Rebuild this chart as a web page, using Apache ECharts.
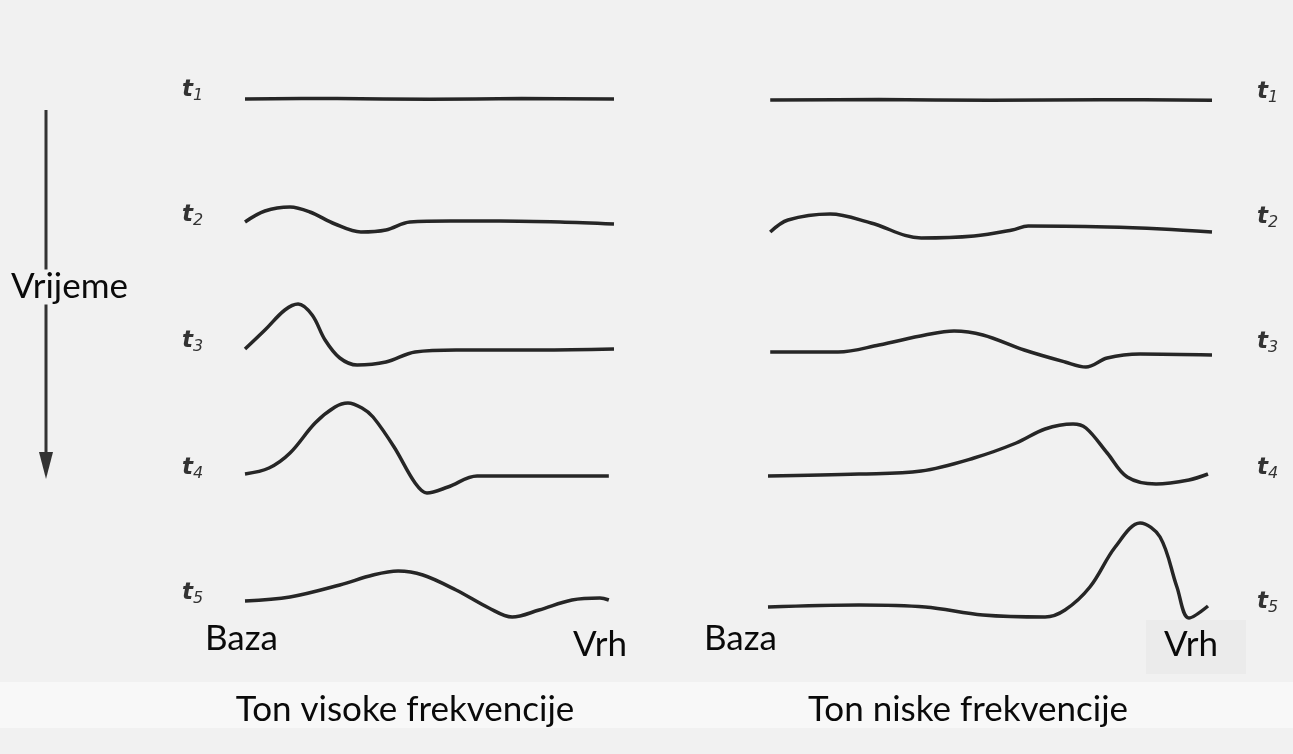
<!DOCTYPE html>
<html>
<head>
<meta charset="utf-8">
<script src="https://cdn.jsdelivr.net/npm/echarts@6/dist/echarts.min.js"></script>
<style>
  html, body { margin: 0; padding: 0; background: #f1f1f1; }
  #chart { width: 1293px; height: 754px; }
</style>
</head>
<body>
<div id="chart"></div>
<script>
// position along the membrane (0 = Baza, 100 = Vrh) and displacement
const highT1 = [[0, 0], [25, 0.5], [50, -0.3], [75, 0.4], [100, 0]];
const highT2 = [[0, 0], [5.4, 11], [12.2, 15], [17.6, 10], [24.4, -2], [31.4, -10], [38.2, -8], [44.7, 0], [55.6, 1], [69.1, 1], [85.4, 0], [100, -2]];
const highT3 = [[0, 1], [5.4, 20], [10.8, 40], [14.4, 46], [18.2, 35], [21.7, 10], [25.7, -8], [30.4, -15], [38.2, -12], [46.1, -2], [57.2, 0], [79.9, 0], [100, 1]];
const highT4 = [[0, 2], [6.5, 8], [12.2, 23], [19, 53], [24.4, 69], [27.9, 73], [31.7, 68], [34.7, 59], [40.4, 29], [46.1, -7], [49.3, -17], [55, -11], [62.9, 0], [79.9, 0], [98.6, 0]];
const highT5 = [[0, -1], [12.2, 3], [25.7, 15], [34.7, 25], [41.5, 29], [48.2, 25], [57.2, 10], [66.1, -8], [72.4, -17], [79.7, -10], [88.6, 0], [96.2, 2], [98.6, 0]];

const lowT1 = [[0.5, 0], [25, 0.4], [50, -0.3], [75, 0.3], [100, -0.3]];
const lowT2 = [[0.5, -2], [4.5, 10], [14, 16], [23.2, 7], [34.5, -8], [46.4, -6], [55, 0], [58.6, 4], [76.4, 3], [88.7, 1], [100, -2]];
const lowT3 = [[0.5, 0], [15.8, 0], [25, 7], [35.4, 17], [41.9, 21], [48.4, 17], [57.7, 2], [66.9, -10], [71.6, -15], [76.4, -6], [83.8, -2], [100, -3]];
const lowT4 = [[0, 0], [20.5, 2], [34.5, 5], [46.4, 18], [55.9, 33], [62.4, 47], [68.7, 52], [71.6, 48], [76.4, 23], [80.9, -1], [87.4, -8], [94.8, -4], [99.1, 2]];
const lowT5 = [[0, -1], [20.5, 1], [35.4, -1], [48.4, -9], [62.4, -11], [66.9, -4], [72.5, 19], [78.2, 59], [83.8, 83], [88.3, 69], [92.1, 19], [94.8, -12], [99.1, 0]];

const timeLabels = ['1', '2', '3', '4', '5'];
const panelTitles = ['Ton visoke frekvencije', 'Ton niske frekvencije'];
const endLabels = ['Baza', 'Vrh'];

// layout
const panels = [
  { traces: [highT1, highT2, highT3, highT4, highT5], left: 245, width: 369, base: [99, 222, 350, 476, 600], labelX: 182, labelY: [76, 201, 327, 454, 579] },
  { traces: [lowT1, lowT2, lowT3, lowT4, lowT5], left: 768, width: 444, base: [100, 230, 352, 476, 606], labelX: 1257, labelY: [78, 203, 328, 454, 588] }
];
const yMax = 90, yMin = -30;

const grid = [], xAxis = [], yAxis = [], series = [], graphic = [];

graphic.push({ type: 'rect', shape: { x: 0, y: 682, width: 1293, height: 46 }, style: { fill: '#f8f8f8' }, z: -10 });
graphic.push({ type: 'rect', shape: { x: 1146, y: 620, width: 100, height: 54 }, style: { fill: '#ebebeb' }, z: -10 });

panels.forEach(function (p, pi) {
  p.traces.forEach(function (tr, ri) {
    const gi = grid.length;
    grid.push({ left: p.left, width: p.width, top: p.base[ri] - yMax, height: yMax - yMin });
    xAxis.push({ type: 'value', gridIndex: gi, min: 0, max: 100, show: false });
    yAxis.push({ type: 'value', gridIndex: gi, min: yMin, max: yMax, show: false });
    series.push({
      type: 'line',
      xAxisIndex: gi,
      yAxisIndex: gi,
      data: tr,
      smooth: 0.35,
      showSymbol: false,
      lineStyle: { color: '#262626', width: 3.5 }
    });
    graphic.push({
      type: 'text',
      x: p.labelX,
      y: p.labelY[ri],
      style: {
        text: '{t|t}{s|' + timeLabels[ri] + '}',
        rich: {
          t: { fontFamily: 'DejaVu Sans', fontStyle: 'italic', fontWeight: 'bold', fontSize: 23, fill: '#333' },
          s: { fontFamily: 'DejaVu Sans', fontStyle: 'italic', fontSize: 16, fill: '#333', padding: [12, 0, 0, 0] }
        }
      }
    });
  });
});

const titleX = [405, 968];
const bazaX = [205, 704];
const vrhX = [627, 1218];
const textStyle = { fontFamily: 'Lato', fontSize: 35, fill: '#0a0a0a' };
[0, 1].forEach(function (i) {
  graphic.push({ type: 'text', x: titleX[i], y: 710, style: Object.assign({ text: panelTitles[i], align: 'center', verticalAlign: 'middle' }, textStyle) });
  graphic.push({ type: 'text', x: bazaX[i], y: 639, style: Object.assign({ text: endLabels[0], align: 'left', verticalAlign: 'middle' }, textStyle) });
  graphic.push({ type: 'text', x: vrhX[i], y: 645, style: Object.assign({ text: endLabels[1], align: 'right', verticalAlign: 'middle' }, textStyle) });
});

// time arrow
graphic.push({ type: 'line', shape: { x1: 46, y1: 110, x2: 46, y2: 460 }, style: { stroke: '#333', lineWidth: 3 } });
graphic.push({ type: 'polygon', shape: { points: [[39, 452], [53, 452], [46, 479]] }, style: { fill: '#333' } });
graphic.push({ type: 'text', x: 9, y: 287, z: 10, style: Object.assign({ text: 'Vrijeme', align: 'left', verticalAlign: 'middle', backgroundColor: '#f1f1f1', padding: [0, 2] }, textStyle) });

const chart = echarts.init(document.getElementById('chart'));
chart.setOption({
  backgroundColor: '#f1f1f1',
  animation: false,
  grid: grid,
  xAxis: xAxis,
  yAxis: yAxis,
  series: series,
  graphic: graphic
});
</script>
</body>
</html>
